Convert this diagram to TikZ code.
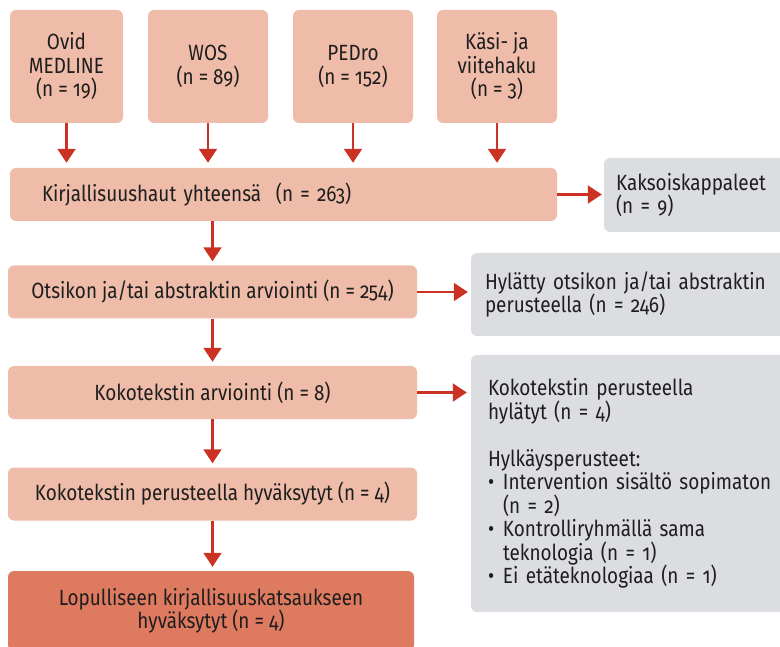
\documentclass[tikz,border=0pt]{standalone}
\usepackage{fontspec}
\setmainfont{Fira Sans}[Numbers=OldStyle, FakeStretch=0.86]
\usepackage{tikz}
\usetikzlibrary{arrows.meta,positioning}

\definecolor{lohi}{RGB}{238,188,168}
\definecolor{tummalohi}{RGB}{222,122,95}
\definecolor{harmaa}{RGB}{220,221,224}
\definecolor{nuoli}{RGB}{204,50,35}
\definecolor{teksti}{RGB}{30,30,30}

\begin{document}
\begin{tikzpicture}[
        x=1pt,
        y=-1pt,
        font=\fontsize{22}{23.5}\selectfont,
        box/.style={fill=lohi, rounded corners=6pt, text=teksti, align=center, inner sep=0pt},
        sourcebox/.style={box, minimum width=120pt, minimum height=113pt},
        stagebox/.style={box, minimum width=409pt, minimum height=53pt},
        sidebox/.style={fill=harmaa, rounded corners=6pt, text=teksti, align=left, inner ysep=0pt},
        arrow/.style={draw=nuoli, line width=2.2pt, -{Triangle[width=18pt, length=14pt]}}
    ]
        \useasboundingbox (0,0) rectangle (780,647);
        \clip (0,0) rectangle (780,647);
        % hakulahteet
        \node[sourcebox, minimum width=113pt] (ovid) at (66.5,66.5) {Ovid\\MEDLINE\\(n = 19)};
        \node[sourcebox] (wos) at (208,66.5) {WOS\\(n = 89)};
        \node[sourcebox] (pedro) at (353,66.5) {PEDro\\(n = 152)};
        \node[sourcebox] (kasi) at (497,66.5) {Käsi- ja\\viitehaku\\(n = 3)};
        % vaiheet
        \node[box, minimum width=547pt, minimum height=53pt, align=left, text width=483pt, inner xsep=32pt] (haut) at (283.5,194.5) {Kirjallisuushaut yhteensä\ \ (n = 263)};
        \node[stagebox] (otsikko) at (212.5,292) {Otsikon ja/tai abstraktin arviointi (n = 254)};
        \node[stagebox] (kokoteksti) at (212.5,392.5) {Kokotekstin arviointi (n = 8)};
        \node[stagebox] (hyvaksytyt) at (212.5,494) {Kokotekstin perusteella hyväksytyt (n = 4)};
        \node[box, fill=tummalohi, minimum width=406pt, minimum height=80pt] (lopulliset) at (211,611) {Lopulliseen kirjallisuuskatsaukseen\\hyväksytyt (n = 4)};
        % poistetut
        \node[sidebox, minimum width=186pt, minimum height=74pt, text width=162pt, inner xsep=12pt] (kaksois) at (697,195) {Kaksoiskappaleet\\(n = 9)};
        \node[sidebox, minimum width=319pt, minimum height=83pt, text width=291pt, inner xsep=14pt] (hylatty) at (630.5,294.5) {Hylätty otsikon ja/tai abstraktin\\perusteella (n = 246)};
        \node[sidebox, minimum width=319pt, minimum height=257pt, text width=285pt, inner xsep=17pt] (hylatyt) at (630.5,483.5) {Kokotekstin perusteella\\hylätyt (n = 4)\\[23.5pt]Hylkäysperusteet:\\\makebox[15pt][l]{\textbullet}Intervention sisältö sopimaton\\\hspace*{15pt}(n = 2)\\\makebox[15pt][l]{\textbullet}Kontrolliryhmällä sama\\\hspace*{15pt}teknologia (n = 1)\\\makebox[15pt][l]{\textbullet}Ei etäteknologiaa (n = 1)};
        % nuolet
        \foreach \n in {ovid,wos,pedro,kasi}
            \draw[arrow, shorten >=5pt] (\n.south) -- (\n.south |- haut.north);
        \draw[arrow, shorten >=4pt] (haut.south -| otsikko) -- (otsikko.north);
        \draw[arrow, shorten >=4pt] (otsikko) -- (kokoteksti);
        \draw[arrow, shorten >=4pt] (kokoteksti) -- (hyvaksytyt);
        \draw[arrow, shorten >=4pt] (hyvaksytyt) -- (lopulliset.north -| hyvaksytyt);
        \draw[arrow, shorten >=2pt] (haut.east) -- (haut.east -| kaksois.west);
        \draw[arrow, shorten >=3pt] (otsikko.east) -- (otsikko.east -| hylatty.west);
        \draw[arrow, shorten >=4pt] (kokoteksti.east) -- (kokoteksti.east -| hylatyt.west);
    \end{tikzpicture}
\end{document}
